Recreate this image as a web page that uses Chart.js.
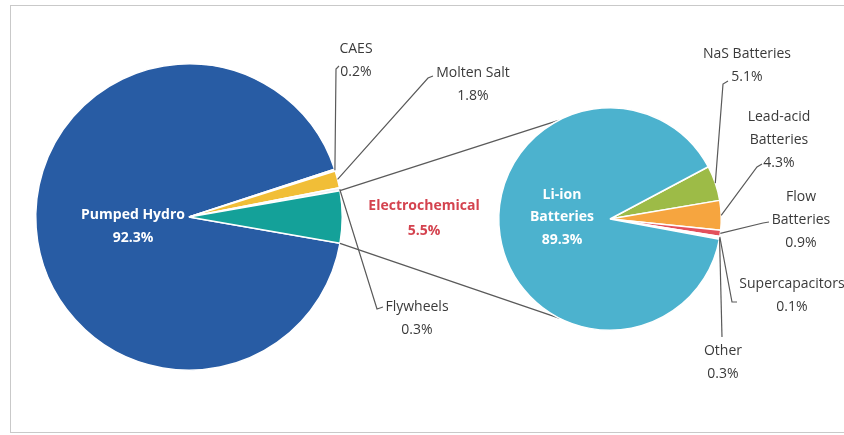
<!DOCTYPE html>
<html>
<head>
<meta charset="utf-8">
<script src="https://cdn.jsdelivr.net/npm/chart.js@4.4.1/dist/chart.umd.min.js"></script>
<style>
  body { margin: 0; background: #fff; }
  #wrap { position: relative; width: 844px; height: 435px; overflow: hidden; }
  #wrap canvas { position: absolute; left: 0; top: 0; }
  #frame { position: absolute; left: 10px; top: 5px; width: 850px; height: 426px; border: 1.5px solid #c9c9c9; }
</style>
</head>
<body>
<div id="wrap">
  <div id="frame"></div>
  <canvas id="mainPie" width="844" height="435"></canvas>
  <canvas id="subPie" width="844" height="435"></canvas>
</div>
<script>
// energy storage by technology (%)
const mainLabels = ['Pumped Hydro', 'CAES', 'Molten Salt', 'Flywheels', 'Electrochemical'];
const mainValues = [92.3, 0.2, 1.8, 0.3, 5.5];
const mainColors = ['#285ca4', '#eef1f4', '#f1be37', '#eef1f4', '#14a199'];

// electrochemical breakdown (%)
const subLabels = ['NaS Batteries', ['Lead-acid', 'Batteries'], ['Flow', 'Batteries'], 'Supercapacitors', 'Other', ['Li-ion', 'Batteries']];
const subValues = [5.1, 4.3, 0.9, 0.1, 0.3, 89.3];
const subColors = ['#9dbb47', '#f6a53f', '#e3505c', '#f1f7f9', '#f1f7f9', '#4cb2ce'];

const FONT = '"Open Sans", sans-serif';
const TEXT = '#3a3a3a';
const LINE = '#5a5a5a';

let mainChart;

// text + leader line for each slice
function makeLabelPlugin(labels, values, items) {
  return {
    id: 'sliceLabels',
    afterDatasetsDraw(chart) {
      const ctx = chart.ctx;
      const arcs = chart.getDatasetMeta(0).data;
      ctx.save();
      items.forEach(it => {
        const arc = arcs[it.index];
        if (it.elbow) {
          const mid = (arc.startAngle + arc.endAngle) / 2;
          const r = arc.outerRadius;
          ctx.beginPath();
          ctx.moveTo(arc.x + r * Math.cos(mid), arc.y + r * Math.sin(mid));
          ctx.lineTo(it.elbow[0], it.elbow[1]);
          if (it.hook) ctx.lineTo(it.hook[0], it.hook[1]);
          ctx.strokeStyle = LINE;
          ctx.lineWidth = 1.2;
          ctx.stroke();
        }
        const name = labels[it.index];
        const lines = (Array.isArray(name) ? name : [name]).concat(values[it.index].toFixed(1) + '%');
        ctx.font = (it.bold ? 'bold ' : '') + (it.size || 14) + 'px ' + FONT;
        ctx.fillStyle = it.color || TEXT;
        ctx.textAlign = 'center';
        ctx.textBaseline = 'middle';
        lines.forEach((t, i) => {
          ctx.fillText(t, it.x, it.y + i * (it.lh || 23));
        });
      });
      ctx.restore();
    }
  };
}

// lines joining the electrochemical slice to the second pie
const connectorPlugin = {
  id: 'connectors',
  beforeDatasetsDraw(chart) {
    const src = mainChart.getDatasetMeta(0).data[mainLabels.length - 1];
    const dst = chart.getDatasetMeta(0).data[0];
    const ctx = chart.ctx;
    const ends = [
      [src.startAngle, -117.5 * Math.PI / 180],
      [src.endAngle, 116.8 * Math.PI / 180]
    ];
    ctx.save();
    ctx.strokeStyle = LINE;
    ctx.lineWidth = 1.3;
    ends.forEach(([a, b]) => {
      ctx.beginPath();
      ctx.moveTo(src.x + src.outerRadius * Math.cos(a), src.y + src.outerRadius * Math.sin(a));
      ctx.lineTo(dst.x + dst.outerRadius * Math.cos(b), dst.y + dst.outerRadius * Math.sin(b));
      ctx.stroke();
    });
    ctx.restore();
  }
};

const baseOptions = {
  responsive: false,
  animation: false,
  events: [],
  plugins: { legend: { display: false }, tooltip: { enabled: false } }
};

// electrochemical slice centred on the right-hand side
const electroDeg = mainValues[mainValues.length - 1] / mainValues.reduce((s, v) => s + v, 0) * 360;

mainChart = new Chart(document.getElementById('mainPie'), {
  type: 'pie',
  data: {
    labels: mainLabels,
    datasets: [{
      data: mainValues,
      backgroundColor: mainColors,
      borderColor: '#ffffff',
      borderWidth: 1.5
    }]
  },
  options: Object.assign({}, baseOptions, {
    rotation: 90 + electroDeg / 2,
    layout: { padding: { left: 35, top: 63, right: 501, bottom: 64 } }
  }),
  plugins: [makeLabelPlugin(mainLabels, mainValues, [
    { index: 0, x: 133, y: 215, color: '#ffffff', bold: true },
    { index: 1, x: 356, y: 49, elbow: [336, 69], hook: [339, 66] },
    { index: 2, x: 473, y: 73, elbow: [428, 78], hook: [433, 76] },
    { index: 3, x: 417, y: 307, elbow: [377, 309], hook: [383, 307] },
    { index: 4, x: 424, y: 206, color: '#d4434f', bold: true, lh: 25 }
  ])]
});

new Chart(document.getElementById('subPie'), {
  type: 'pie',
  data: {
    labels: subLabels,
    datasets: [{
      data: subValues,
      backgroundColor: subColors,
      borderColor: '#ffffff',
      borderWidth: 1.5
    }]
  },
  options: Object.assign({}, baseOptions, {
    rotation: 62,
    layout: { padding: { left: 498, top: 107, right: 122, bottom: 104 } }
  }),
  plugins: [connectorPlugin, makeLabelPlugin(subLabels, subValues, [
    { index: 0, x: 747, y: 54, elbow: [723, 84], hook: [728, 81] },
    { index: 1, x: 779, y: 117, elbow: [757, 167], hook: [762, 164] },
    { index: 2, x: 801, y: 197, elbow: [763, 223], hook: [769, 222] },
    { index: 3, x: 792, y: 284, elbow: [732, 302], hook: [737, 302] },
    { index: 4, x: 723, y: 351, elbow: [722, 337] },
    { index: 5, x: 562, y: 195, color: '#ffffff', bold: true, lh: 22.5 }
  ])]
});
</script>
</body>
</html>
